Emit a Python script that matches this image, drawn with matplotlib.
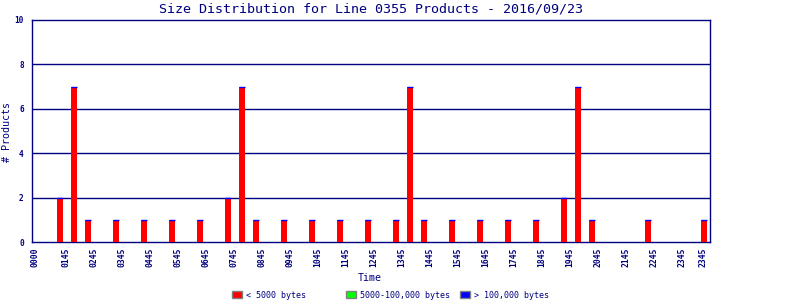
import matplotlib
matplotlib.use("Agg")
import matplotlib.pyplot as plt
from matplotlib.patches import Patch

# ---- data ----
title = "Size Distribution for Line 0355 Products - 2016/09/23"
slots = [4, 6, 8, 12, 16, 20, 24, 28, 30, 32, 36, 40, 44, 48, 52, 54, 56,
         60, 64, 68, 72, 76, 78, 80, 88, 96]
small = [2, 7, 1, 1, 1, 1, 1, 2, 7, 1, 1, 1, 1, 1, 1, 7, 1,
         1, 1, 1, 1, 2, 7, 1, 1, 1]
medium = [0] * len(slots)
large = [0] * len(slots)
tick_labels = ["0000", "0145", "0245", "0345", "0445", "0545", "0645", "0745",
               "0845", "0945", "1045", "1145", "1245", "1345", "1445", "1545",
               "1645", "1745", "1845", "1945", "2045", "2145", "2245", "2345",
               "2345"]
series_names = ["< 5000 bytes", "5000-100,000 bytes", "> 100,000 bytes"]

NAVY = "#000080"
RED, GREEN, BLUE = "#ff0000", "#00ff00", "#0000ff"
FONT = "DejaVu Sans Mono"

fig = plt.figure(figsize=(8, 3), dpi=100)
ax = fig.add_axes([32 / 800, 1 - 242 / 300, (710 - 32) / 800, (242 - 20) / 300])

w = 0.82
ax.bar(slots, small, width=w, color=RED, linewidth=0, zorder=3)
bottom2 = [a for a in small]
ax.bar(slots, medium, width=w, bottom=bottom2, color=GREEN, linewidth=0, zorder=3)
bottom3 = [a + b for a, b in zip(small, medium)]
ax.bar(slots, large, width=w, bottom=bottom3, color=BLUE, linewidth=0, zorder=3)
tops = [a + b + c for a, b, c in zip(small, medium, large)]
ax.hlines(tops, [s - w / 2 for s in slots], [s + w / 2 for s in slots],
          colors=BLUE, linewidth=1.0, zorder=4)

ax.set_xlim(0, 96.86)
ax.set_ylim(0, 10)
for y in [2, 4, 6, 8]:
    ax.axhline(y, color=NAVY, linewidth=1, zorder=1)

tick_pos = [0.5] + [4.8 + 4 * k for k in range(23)] + [95.9]
ax.set_xticks(tick_pos)
ax.set_xticklabels(tick_labels, rotation=90, fontsize=5.8, family=FONT,
                   color=NAVY, va="top", fontweight="bold")
ax.set_yticks([0, 2, 4, 6, 8, 10])
ax.set_yticklabels(["0", "2", "4", "6", "8", "10"], fontsize=5.6, family=FONT,
                   color=NAVY, fontweight="bold")
ax.tick_params(axis="x", length=0, pad=4)
ax.tick_params(axis="y", length=0, pad=6)
for sp in ax.spines.values():
    sp.set_color(NAVY)
    sp.set_linewidth(1)

fig.text(371 / 800, 1 - 9 / 300, title, ha="center", va="center",
         fontsize=9.6, family=FONT, color=NAVY)
fig.text(370 / 800, 1 - 278 / 300, "Time", ha="center", va="center",
         fontsize=7.2, family=FONT, color=NAVY)
fig.text(7 / 800, 1 - 132 / 300, "# Products", ha="center", va="center",
         rotation=90, fontsize=7.2, family=FONT, color=NAVY)

colors = [RED, GREEN, BLUE]
xs = [232, 346, 460]
for name, c, x in zip(series_names, colors, xs):
    leg = fig.legend(handles=[Patch(facecolor=c, edgecolor="#808080", linewidth=1)],
                     labels=[name], loc="center left",
                     bbox_to_anchor=(x / 800, 1 - 295 / 300), frameon=False,
                     handlelength=1.25, handleheight=0.9, handletextpad=0.4,
                     borderpad=0, borderaxespad=0,
                     prop={"family": FONT, "size": 6.0})
    for t in leg.get_texts():
        t.set_color(NAVY)

fig.savefig("out.png", dpi=100, facecolor="white")
